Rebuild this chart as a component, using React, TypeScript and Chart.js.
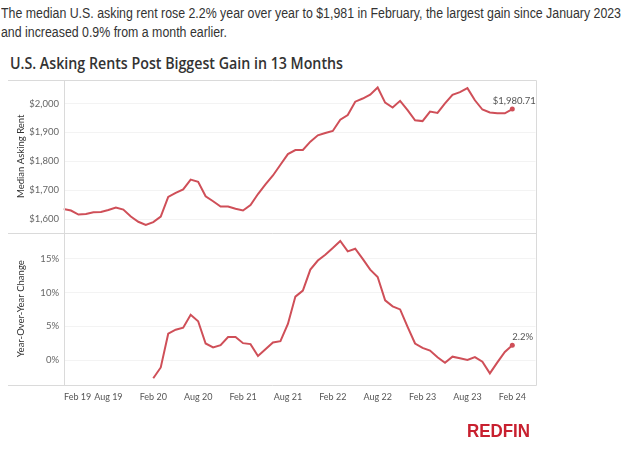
import React, { useEffect, useRef } from 'react';
import { Chart, registerables } from 'chart.js';

Chart.register(...registerables);

// Months indexed from Feb 2019 (0) to Feb 2024 (60)
const tickIndices = [0, 6, 12, 18, 24, 30, 36, 42, 48, 54, 60];
const tickLabels = ['Feb 19', 'Aug 19', 'Feb 20', 'Aug 20', 'Feb 21', 'Aug 21', 'Feb 22', 'Aug 22', 'Feb 23', 'Aug 23', 'Feb 24'];

// Median asking rent, Feb 2019 – Feb 2024
const rentValues = [
  1635, 1630, 1616, 1618, 1624, 1625, 1632, 1640, 1633, 1609, 1591, 1580,
  1590, 1609, 1677, 1691, 1703, 1737, 1729, 1679, 1662, 1644, 1644, 1636,
  1630, 1649, 1687, 1720, 1751, 1788, 1825, 1839, 1839, 1868, 1890, 1898,
  1905, 1944, 1960, 2006, 2017, 2030, 2055, 2003, 1986, 2009, 1977, 1942,
  1939, 1972, 1967, 2000, 2030, 2039, 2053, 2011, 1979, 1969, 1966, 1966,
  1980.71,
];

// Year-over-year change (%), Feb 2020 – Feb 2024
const yoyStartIndex = 12;
const yoyValues = [
  -2.7, -1.1, 3.9, 4.5, 4.8, 6.7, 5.75, 2.45, 1.87, 2.2, 3.4, 3.4,
  2.5, 2.36, 0.6, 1.6, 2.6, 2.8, 5.35, 9.4, 10.3, 13.4, 14.75, 15.6,
  16.6, 17.65, 16.1, 16.5, 15.0, 13.4, 12.3, 8.85, 7.96, 7.5, 4.9, 2.45,
  1.8, 1.4, 0.4, -0.4, 0.5, 0.25, 0.0, 0.44, -0.25, -1.97, -0.35, 1.2,
  2.2,
];

const rentTicks = [1600, 1700, 1800, 1900, 2000];
const yoyTicks = [0, 5, 10, 15];

const rentEndLabel = '$1,980.71';
const yoyEndLabel = '2.2%';

const LINE = '#cf4f58';
const FONT = 'Lato, "Liberation Sans", sans-serif';

const framePlugin = {
  id: 'frame',
  afterDraw(chart: any) {
    const { ctx, chartArea } = chart;
    const xs = chart.scales.x;
    const yr = chart.scales.yRent;
    const r = (v: number) => Math.round(v) + 0.5;
    ctx.save();
    ctx.strokeStyle = '#dadada';
    ctx.lineWidth = 1;
    ctx.beginPath();
    const left = 8;
    ctx.moveTo(left, r(chartArea.top)); ctx.lineTo(r(chartArea.right), r(chartArea.top));
    ctx.moveTo(left, r(yr.bottom)); ctx.lineTo(r(chartArea.right), r(yr.bottom));
    ctx.moveTo(left, r(chartArea.bottom)); ctx.lineTo(r(chartArea.right), r(chartArea.bottom));
    ctx.moveTo(r(chartArea.left), r(chartArea.top)); ctx.lineTo(r(chartArea.left), r(chartArea.bottom));
    ctx.moveTo(r(chartArea.right), r(chartArea.top)); ctx.lineTo(r(chartArea.right), r(chartArea.bottom));
    ctx.stroke();

    // x tick labels
    ctx.fillStyle = '#555';
    ctx.font = `9px ${FONT}`;
    ctx.textBaseline = 'middle';
    tickIndices.forEach((idx, i) => {
      const x = xs.getPixelForValue(idx);
      ctx.textAlign = i === 0 ? 'left' : 'center';
      ctx.fillText(tickLabels[i], i === 0 ? x + 0.5 : x, chartArea.bottom + 12.5);
    });

    // end labels
    ctx.font = `9.5px ${FONT}`;
    ctx.fillStyle = '#555';
    const m0 = chart.getDatasetMeta(0).data;
    const p0 = m0[m0.length - 1];
    ctx.textAlign = 'center';
    ctx.fillText(rentEndLabel, p0.x + 2, p0.y - 8);
    const m1 = chart.getDatasetMeta(1).data;
    const p1 = m1[m1.length - 1];
    ctx.textAlign = 'left';
    ctx.fillText(yoyEndLabel, p1.x, p1.y - 8);
    ctx.restore();
  },
};

function yScale(min: number, max: number, ticks: number[], fmt: (v: number) => string, title: string) {
  return {
    type: 'linear',
    position: 'left',
    stack: 'panels',
    stackWeight: 1,
    min,
    max,
    afterBuildTicks: (scale: any) => {
      scale.ticks = ticks.map((v) => ({ value: v }));
    },
    afterFit: (scale: any) => {
      scale.width = 55.5;
    },
    border: { display: false },
    grid: { color: '#f3f3f3', drawTicks: false },
    ticks: {
      color: '#666',
      padding: 4.5,
      font: { family: FONT, size: 9.5 },
      callback: (v: any) => fmt(Number(v)),
    },
    title: {
      display: true,
      text: title,
      color: '#333',
      font: { family: FONT, size: 9.5 },
      padding: { top: 7, bottom: 0 },
    },
  };
}

function fit(el: HTMLElement | null, target: number) {
  if (!el) return 1;
  el.style.transform = '';
  const w = el.getBoundingClientRect().width;
  const s = w > 0 ? target / w : 1;
  el.style.transformOrigin = 'left top';
  el.style.transform = `scaleX(${s})`;
  return s;
}

export default function App() {
  const ref = useRef<HTMLCanvasElement>(null);
  const line1 = useRef<HTMLSpanElement>(null);
  const line2 = useRef<HTMLSpanElement>(null);
  const titleRef = useRef<HTMLSpanElement>(null);
  const logoRef = useRef<HTMLSpanElement>(null);

  useEffect(() => {
    const s = fit(line1.current, 620);
    if (line2.current) {
      line2.current.style.transformOrigin = 'left top';
      line2.current.style.transform = `scaleX(${s})`;
    }
    fit(titleRef.current, 333);
    fit(logoRef.current, 63);
  }, []);

  useEffect(() => {
    if (!ref.current) return;
    const chart = new Chart(ref.current, {
      type: 'line',
      data: {
        datasets: [
          {
            label: 'Median Asking Rent',
            data: rentValues.map((v, i) => ({ x: i, y: v })),
            yAxisID: 'yRent',
            borderColor: LINE,
            backgroundColor: LINE,
            borderWidth: 2,
            pointRadius: (c: any) => (c.dataIndex === rentValues.length - 1 ? 2.5 : 0),
            pointBorderWidth: 0,
            tension: 0,
          },
          {
            label: 'Year-Over-Year Change',
            data: yoyValues.map((v, i) => ({ x: i + yoyStartIndex, y: v })),
            yAxisID: 'yYoy',
            borderColor: LINE,
            backgroundColor: LINE,
            borderWidth: 2,
            pointRadius: (c: any) => (c.dataIndex === yoyValues.length - 1 ? 2.5 : 0),
            pointBorderWidth: 0,
            tension: 0,
          },
        ],
      },
      options: {
        responsive: false,
        animation: false,
        devicePixelRatio: 1,
        layout: { padding: { left: 8, right: 88.5, top: 80, bottom: 72 } },
        plugins: { legend: { display: false }, tooltip: { enabled: false } },
        scales: {
          x: { type: 'linear', min: 0, max: 63.1, display: false },
          yYoy: yScale(-3.7, 18.9, yoyTicks, (v) => `${v}%`, 'Year-Over-Year Change'),
          yRent: yScale(1554, 2081, rentTicks, (v) => '$' + v.toLocaleString('en-US'), 'Median Asking Rent'),
        },
      } as any,
      plugins: [framePlugin],
    });
    return () => chart.destroy();
  }, []);

  const textFont = '"Liberation Sans", sans-serif';

  return (
    <div style={{ position: 'absolute', left: 0, top: 0, width: 624, height: 457, background: '#fff', overflow: 'hidden' }}>
      <span
        ref={line1}
        style={{
          position: 'absolute', left: 1, top: 4, fontFamily: textFont, fontSize: 14,
          lineHeight: '18px', color: '#333', whiteSpace: 'nowrap', display: 'inline-block',
        }}
      >
        The median U.S. asking rent rose 2.2% year over year to $1,981 in February, the largest gain since January 2023
      </span>
      <span
        ref={line2}
        style={{
          position: 'absolute', left: 1, top: 23, fontFamily: textFont, fontSize: 14,
          lineHeight: '18px', color: '#333', whiteSpace: 'nowrap', display: 'inline-block',
        }}
      >
        and increased 0.9% from a month earlier.
      </span>
      <span
        ref={titleRef}
        style={{
          position: 'absolute', left: 10, top: 53, fontFamily: '"Open Sans", "Liberation Sans", sans-serif', fontSize: 16.5,
          fontWeight: 600, lineHeight: '20px', color: '#333', whiteSpace: 'nowrap', display: 'inline-block',
        }}
      >
        U.S. Asking Rents Post Biggest Gain in 13 Months
      </span>
      <canvas ref={ref} width={624} height={457} style={{ position: 'absolute', left: 0, top: 0, width: 624, height: 457 }} />
      <span
        ref={logoRef}
        style={{
          position: 'absolute', left: 467, top: 420, fontFamily: textFont, fontSize: 19,
          fontWeight: 700, lineHeight: '22px', color: '#c8202f', whiteSpace: 'nowrap', display: 'inline-block',
        }}
      >
        REDFIN
      </span>
    </div>
  );
}
